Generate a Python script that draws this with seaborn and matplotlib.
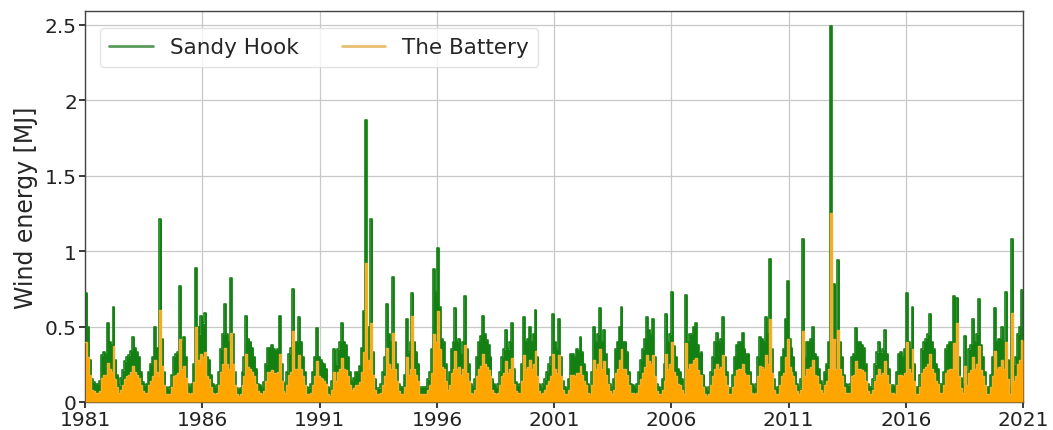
import numpy as np
import pandas as pd
import matplotlib
matplotlib.use("Agg")
import matplotlib.pyplot as plt
import matplotlib.dates as mdates
from matplotlib.ticker import FuncFormatter
import seaborn as sns

# Monthly values (Jan..Dec) for 1981-2020
sandy_hook = [
    0.72, 0.50, 0.28, 0.15, 0.13, 0.12, 0.12, 0.14, 0.31, 0.33, 0.32, 0.52,  # 1981
    0.40, 0.38, 0.63, 0.28, 0.18, 0.11, 0.16, 0.21, 0.27, 0.30, 0.31, 0.34,  # 1982
    0.43, 0.36, 0.33, 0.30, 0.20, 0.13, 0.11, 0.12, 0.20, 0.25, 0.30, 0.50,  # 1983
    0.36, 0.30, 1.21, 0.42, 0.20, 0.10, 0.09, 0.10, 0.18, 0.30, 0.32, 0.33,  # 1984
    0.77, 0.40, 0.43, 0.30, 0.12, 0.10, 0.12, 0.25, 0.89, 0.50, 0.45, 0.57,  # 1985
    0.52, 0.59, 0.30, 0.28, 0.18, 0.12, 0.10, 0.11, 0.20, 0.35, 0.45, 0.65,  # 1986
    0.45, 0.40, 0.82, 0.45, 0.20, 0.09, 0.08, 0.09, 0.20, 0.30, 0.57, 0.42,  # 1987
    0.40, 0.36, 0.30, 0.22, 0.12, 0.11, 0.10, 0.13, 0.25, 0.36, 0.36, 0.38,  # 1988
    0.35, 0.34, 0.35, 0.57, 0.25, 0.13, 0.12, 0.20, 0.32, 0.36, 0.75, 0.40,  # 1989
    0.40, 0.56, 0.40, 0.30, 0.20, 0.10, 0.09, 0.12, 0.20, 0.30, 0.49, 0.30,  # 1990
    0.28, 0.26, 0.25, 0.22, 0.10, 0.08, 0.14, 0.35, 0.25, 0.35, 0.40, 0.52,  # 1991
    0.40, 0.38, 0.30, 0.20, 0.14, 0.16, 0.20, 0.20, 0.24, 0.36, 0.60, 1.87,  # 1992
    0.50, 0.40, 1.21, 0.33, 0.15, 0.09, 0.09, 0.12, 0.20, 0.30, 0.65, 0.45,  # 1993
    0.40, 0.83, 0.40, 0.25, 0.12, 0.10, 0.10, 0.18, 0.55, 0.33, 0.40, 0.72,  # 1994
    0.40, 0.33, 0.25, 0.10, 0.10, 0.10, 0.10, 0.15, 0.20, 0.35, 0.88, 0.73,  # 1995
    1.02, 0.63, 0.42, 0.40, 0.25, 0.14, 0.20, 0.35, 0.40, 0.62, 0.40, 0.42,  # 1996
    0.32, 0.40, 0.70, 0.35, 0.25, 0.12, 0.10, 0.15, 0.30, 0.40, 0.44, 0.57,  # 1997
    0.45, 0.41, 0.38, 0.30, 0.15, 0.12, 0.10, 0.12, 0.20, 0.30, 0.35, 0.48,  # 1998
    0.35, 0.40, 0.52, 0.22, 0.13, 0.11, 0.12, 0.25, 0.56, 0.40, 0.42, 0.50,  # 1999
    0.40, 0.45, 0.61, 0.30, 0.12, 0.10, 0.12, 0.15, 0.20, 0.25, 0.30, 0.58,  # 2000
    0.40, 0.35, 0.55, 0.30, 0.14, 0.10, 0.09, 0.15, 0.32, 0.32, 0.30, 0.35,  # 2001
    0.34, 0.43, 0.33, 0.25, 0.20, 0.12, 0.10, 0.20, 0.50, 0.40, 0.45, 0.62,  # 2002
    0.40, 0.48, 0.32, 0.22, 0.12, 0.09, 0.15, 0.35, 0.40, 0.50, 0.63, 0.40,  # 2003
    0.40, 0.33, 0.20, 0.12, 0.11, 0.10, 0.12, 0.20, 0.28, 0.35, 0.42, 0.56,  # 2004
    0.48, 0.45, 0.55, 0.30, 0.12, 0.10, 0.09, 0.15, 0.25, 0.58, 0.40, 0.45,  # 2005
    0.73, 0.37, 0.30, 0.22, 0.20, 0.15, 0.09, 0.71, 0.40, 0.45, 0.45, 0.50,  # 2006
    0.52, 0.38, 0.32, 0.33, 0.18, 0.10, 0.08, 0.10, 0.20, 0.30, 0.40, 0.46,  # 2007
    0.40, 0.42, 0.56, 0.30, 0.20, 0.09, 0.09, 0.18, 0.30, 0.38, 0.40, 0.40,  # 2008
    0.46, 0.35, 0.32, 0.32, 0.20, 0.12, 0.10, 0.12, 0.30, 0.43, 0.42, 0.40,  # 2009
    0.56, 0.45, 0.95, 0.35, 0.15, 0.09, 0.10, 0.20, 0.30, 0.35, 0.55, 0.80,  # 2010
    0.42, 0.36, 0.30, 0.20, 0.12, 0.09, 0.15, 1.08, 0.30, 0.40, 0.40, 0.42,  # 2011
    0.50, 0.32, 0.30, 0.22, 0.14, 0.11, 0.20, 0.25, 0.40, 2.49, 0.40, 0.78,  # 2012
    0.40, 0.94, 0.40, 0.30, 0.18, 0.12, 0.11, 0.12, 0.30, 0.32, 0.49, 0.40,  # 2013
    0.40, 0.38, 0.36, 0.25, 0.12, 0.10, 0.10, 0.15, 0.25, 0.33, 0.40, 0.33,  # 2014
    0.35, 0.48, 0.32, 0.22, 0.11, 0.11, 0.10, 0.20, 0.32, 0.33, 0.30, 0.35,  # 2015
    0.72, 0.40, 0.35, 0.63, 0.25, 0.10, 0.10, 0.18, 0.35, 0.40, 0.42, 0.45,  # 2016
    0.58, 0.40, 0.35, 0.25, 0.22, 0.12, 0.12, 0.20, 0.35, 0.38, 0.40, 0.40,  # 2017
    0.70, 0.40, 0.69, 0.30, 0.16, 0.12, 0.44, 0.20, 0.35, 0.38, 0.55, 0.40,  # 2018
    0.45, 0.68, 0.38, 0.30, 0.20, 0.10, 0.10, 0.18, 0.30, 0.62, 0.40, 0.42,  # 2019
    0.42, 0.50, 0.40, 0.73, 0.28, 0.10, 1.08, 0.25, 0.30, 0.45, 0.50, 0.74,  # 2020
]

the_battery = [
    0.40, 0.30, 0.18, 0.08, 0.07, 0.06, 0.06, 0.07, 0.16, 0.18, 0.18, 0.26,  # 1981
    0.22, 0.20, 0.37, 0.15, 0.10, 0.06, 0.08, 0.11, 0.15, 0.17, 0.18, 0.20,  # 1982
    0.24, 0.20, 0.18, 0.16, 0.11, 0.07, 0.06, 0.06, 0.11, 0.14, 0.17, 0.28,  # 1983
    0.20, 0.17, 0.61, 0.24, 0.11, 0.05, 0.05, 0.05, 0.10, 0.17, 0.18, 0.19,  # 1984
    0.42, 0.22, 0.24, 0.16, 0.06, 0.05, 0.06, 0.13, 0.50, 0.28, 0.25, 0.32,  # 1985
    0.30, 0.33, 0.17, 0.15, 0.10, 0.06, 0.05, 0.06, 0.11, 0.20, 0.25, 0.36,  # 1986
    0.25, 0.22, 0.46, 0.25, 0.11, 0.05, 0.04, 0.05, 0.11, 0.17, 0.32, 0.23,  # 1987
    0.22, 0.20, 0.17, 0.12, 0.07, 0.06, 0.05, 0.07, 0.14, 0.20, 0.20, 0.21,  # 1988
    0.19, 0.19, 0.20, 0.32, 0.14, 0.07, 0.06, 0.11, 0.18, 0.20, 0.47, 0.22,  # 1989
    0.22, 0.31, 0.22, 0.17, 0.11, 0.05, 0.05, 0.06, 0.11, 0.17, 0.27, 0.17,  # 1990
    0.16, 0.15, 0.14, 0.12, 0.05, 0.04, 0.08, 0.20, 0.14, 0.20, 0.22, 0.29,  # 1991
    0.22, 0.21, 0.17, 0.11, 0.08, 0.09, 0.11, 0.11, 0.13, 0.20, 0.33, 0.92,  # 1992
    0.28, 0.22, 0.52, 0.18, 0.08, 0.05, 0.05, 0.06, 0.11, 0.17, 0.36, 0.25,  # 1993
    0.22, 0.46, 0.22, 0.14, 0.07, 0.05, 0.05, 0.10, 0.30, 0.18, 0.22, 0.57,  # 1994
    0.22, 0.18, 0.14, 0.05, 0.05, 0.05, 0.05, 0.08, 0.11, 0.19, 0.45, 0.40,  # 1995
    0.60, 0.35, 0.23, 0.22, 0.14, 0.08, 0.11, 0.19, 0.22, 0.34, 0.22, 0.23,  # 1996
    0.18, 0.22, 0.38, 0.19, 0.14, 0.06, 0.05, 0.08, 0.17, 0.22, 0.24, 0.32,  # 1997
    0.25, 0.23, 0.21, 0.17, 0.08, 0.06, 0.05, 0.06, 0.11, 0.17, 0.19, 0.27,  # 1998
    0.19, 0.22, 0.29, 0.12, 0.07, 0.06, 0.06, 0.14, 0.31, 0.22, 0.23, 0.28,  # 1999
    0.22, 0.25, 0.34, 0.17, 0.07, 0.05, 0.06, 0.08, 0.11, 0.14, 0.17, 0.32,  # 2000
    0.22, 0.19, 0.31, 0.17, 0.08, 0.05, 0.05, 0.08, 0.18, 0.18, 0.17, 0.19,  # 2001
    0.19, 0.24, 0.18, 0.14, 0.11, 0.06, 0.05, 0.11, 0.28, 0.22, 0.25, 0.35,  # 2002
    0.22, 0.27, 0.18, 0.12, 0.07, 0.05, 0.08, 0.19, 0.22, 0.28, 0.35, 0.22,  # 2003
    0.22, 0.18, 0.11, 0.06, 0.06, 0.05, 0.06, 0.11, 0.15, 0.19, 0.23, 0.31,  # 2004
    0.27, 0.25, 0.31, 0.17, 0.07, 0.05, 0.05, 0.08, 0.14, 0.32, 0.22, 0.25,  # 2005
    0.40, 0.20, 0.17, 0.12, 0.11, 0.08, 0.05, 0.39, 0.22, 0.25, 0.25, 0.28,  # 2006
    0.29, 0.21, 0.18, 0.18, 0.10, 0.05, 0.04, 0.05, 0.11, 0.17, 0.22, 0.25,  # 2007
    0.22, 0.23, 0.31, 0.17, 0.11, 0.05, 0.05, 0.10, 0.17, 0.21, 0.22, 0.22,  # 2008
    0.25, 0.19, 0.18, 0.18, 0.11, 0.06, 0.05, 0.06, 0.17, 0.24, 0.23, 0.22,  # 2009
    0.31, 0.25, 0.55, 0.19, 0.08, 0.05, 0.05, 0.11, 0.17, 0.19, 0.30, 0.42,  # 2010
    0.23, 0.20, 0.17, 0.11, 0.07, 0.05, 0.08, 0.47, 0.17, 0.22, 0.22, 0.23,  # 2011
    0.28, 0.18, 0.17, 0.12, 0.08, 0.06, 0.11, 0.14, 0.22, 1.25, 0.22, 0.42,  # 2012
    0.22, 0.48, 0.22, 0.17, 0.10, 0.06, 0.06, 0.06, 0.17, 0.18, 0.27, 0.22,  # 2013
    0.22, 0.21, 0.20, 0.14, 0.07, 0.05, 0.05, 0.08, 0.14, 0.18, 0.22, 0.18,  # 2014
    0.19, 0.27, 0.18, 0.12, 0.06, 0.06, 0.05, 0.11, 0.18, 0.18, 0.17, 0.19,  # 2015
    0.40, 0.22, 0.19, 0.35, 0.14, 0.05, 0.05, 0.10, 0.19, 0.22, 0.23, 0.25,  # 2016
    0.32, 0.22, 0.19, 0.14, 0.12, 0.06, 0.06, 0.11, 0.19, 0.21, 0.22, 0.22,  # 2017
    0.39, 0.22, 0.52, 0.17, 0.09, 0.06, 0.24, 0.11, 0.19, 0.21, 0.30, 0.22,  # 2018
    0.25, 0.37, 0.21, 0.17, 0.11, 0.05, 0.05, 0.10, 0.17, 0.34, 0.22, 0.23,  # 2019
    0.23, 0.28, 0.22, 0.40, 0.15, 0.05, 0.59, 0.14, 0.17, 0.25, 0.28, 0.41,  # 2020
]

series_names = ["Sandy Hook", "The Battery"]
year_ticks = list(range(1981, 2022, 5))
y_ticks = [0, 0.5, 1, 1.5, 2, 2.5]

dates = pd.date_range("1981-01-01", periods=len(sandy_hook), freq="MS")
df = pd.DataFrame({"date": dates, "Sandy Hook": sandy_hook, "The Battery": the_battery})
end_date = pd.Timestamp("2021-01-01")
df_ext = pd.concat([df, df.iloc[[-1]].assign(date=end_date)], ignore_index=True)

sns.set_theme(style="ticks")
plt.rcParams["font.family"] = ["DejaVu Sans"]

fig = plt.figure(figsize=(10.53, 4.31), dpi=100)
ax = fig.add_axes([0.081, 0.065, 0.8905, 0.907])

green = "#148014"
orange = "#FFA500"

ax.fill_between(df_ext["date"], 0, df_ext["Sandy Hook"], step="post", color=green, linewidth=0, zorder=2)
sns.lineplot(data=df_ext, x="date", y="Sandy Hook", drawstyle="steps-post", color=green,
             linewidth=1.2, label=series_names[0], ax=ax, zorder=3)
ax.fill_between(df_ext["date"], 0, df_ext["The Battery"], step="post", color=orange, linewidth=0, zorder=4)
sns.lineplot(data=df_ext, x="date", y="The Battery", drawstyle="steps-post", color="#F0B030",
             linewidth=1.0, label=series_names[1], ax=ax, zorder=5)

ax.set_xlim(pd.Timestamp("1981-01-01"), end_date)
ax.set_ylim(0, 2.59)
ax.set_xticks([pd.Timestamp(f"{y}-01-01") for y in year_ticks])
ax.xaxis.set_major_formatter(mdates.DateFormatter("%Y"))
ax.set_yticks(y_ticks)
ax.yaxis.set_major_formatter(FuncFormatter(lambda v, p: f"{v:g}"))
ax.tick_params(axis="both", labelsize=14.5, colors="#222222", length=4, pad=2)
ax.set_xlabel("")
ax.set_ylabel("Wind energy [MJ]", fontsize=17, labelpad=5)
ax.grid(True, color="#c8c8c8", linewidth=0.9, zorder=0)
ax.set_axisbelow(True)
for s in ax.spines.values():
    s.set_color("#444444")
    s.set_linewidth(1.0)

leg = ax.legend(loc="upper left", ncol=2, fontsize=15.5, frameon=True, handlelength=2.0,
                handletextpad=0.8, columnspacing=2.0, borderpad=0.45,
                bbox_to_anchor=(0.004, 0.985))
leg.get_frame().set_edgecolor("#dddddd")
leg_colors = ["#5a9a5a", "#e8c070"]
for line, c in zip(leg.get_lines(), leg_colors):
    line.set_linewidth(2.0)
    line.set_color(c)

fig.savefig("out.png", dpi=100)
